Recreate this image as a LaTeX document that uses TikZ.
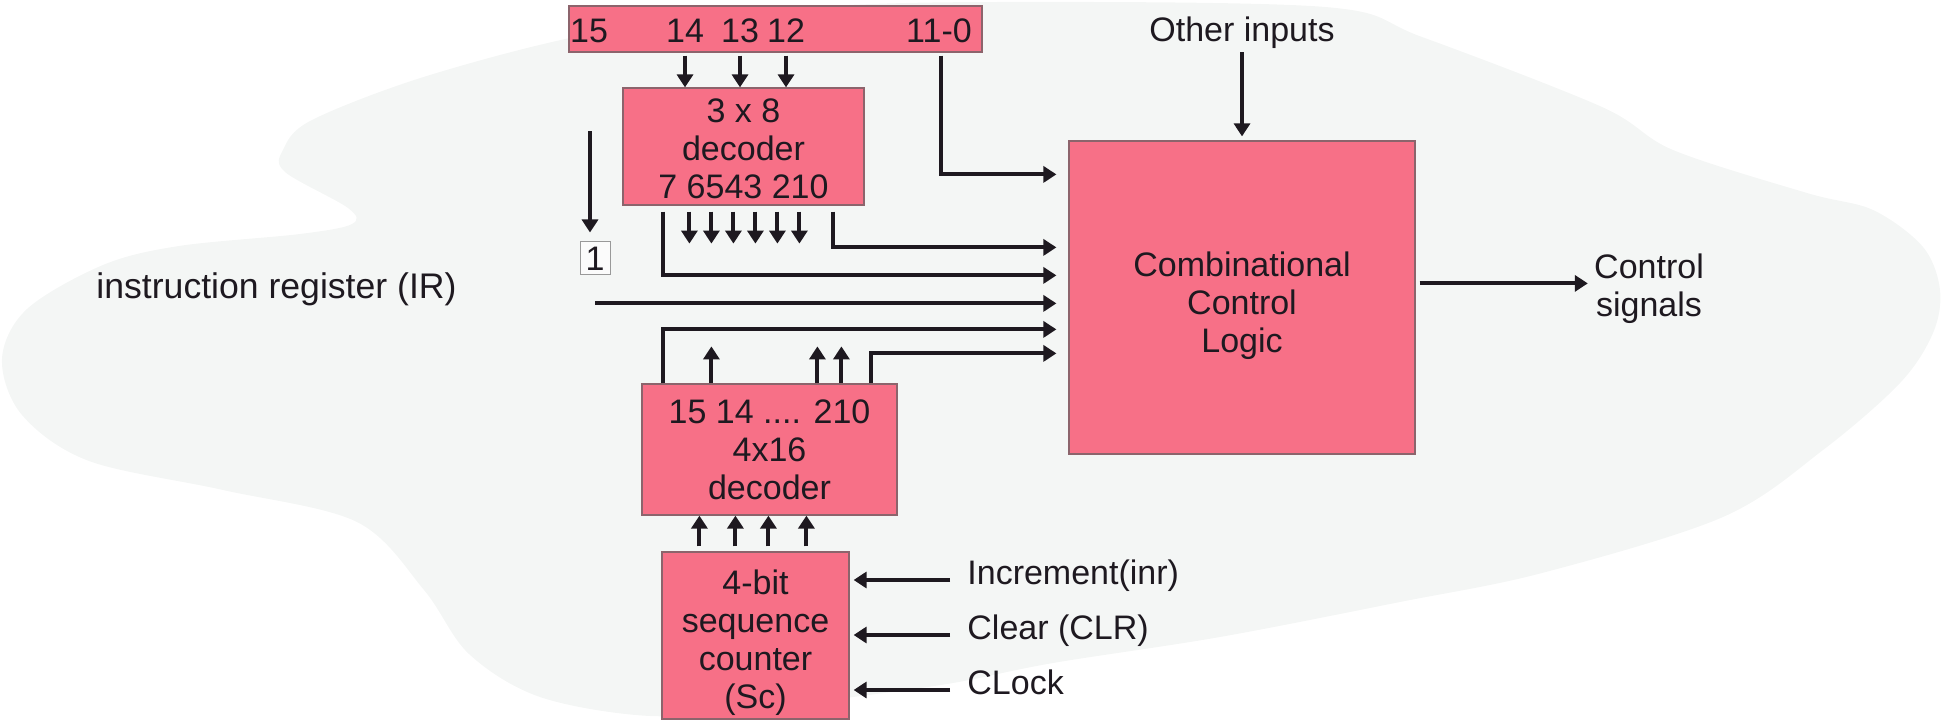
\documentclass[tikz,border=0pt]{standalone}
\usepackage{fontspec}
\setmainfont{Liberation Sans}
\usetikzlibrary{arrows.meta,calc}
\definecolor{pinkbox}{RGB}{247,112,135}
\definecolor{pinkedge}{RGB}{140,100,108}
\definecolor{blobcol}{RGB}{244,246,245}
\definecolor{ink}{RGB}{30,25,32}
\newcommand\dtxt{\fontsize{17}{19}\selectfont}
\begin{document}
\begin{tikzpicture}[x=0.5pt,y=-0.5pt,
  box/.style={draw=pinkedge,line width=0.6pt,fill=pinkbox,inner sep=0pt,align=center,font=\dtxt,text=ink},
  arr/.style={draw=ink,line width=2pt,-{Triangle[length=6.5pt,width=8pt]}},
  lbl/.style={inner sep=0pt,font=\dtxt,text=ink},
  smallbox/.style={draw=gray!80,line width=0.5pt,fill=white!60!blobcol,inner sep=0pt,font=\dtxt,text=ink}]
\useasboundingbox (0,0) rectangle (1942,721);
% background blob
\fill[blobcol] plot[smooth cycle,tension=0.55] coordinates {
 (600,32) (430,75) (312,120) (283,150) (285,172) (348,208) (352,224) (300,234)
 (179,246) (103,265) (27,309) (2,359) (22,415) (89,461) (223,490) (357,522)
 (424,590) (469,654) (540,697) (650,716) (760,708) (853,697) (953,683)
 (1053,663) (1220,637) (1400,602) (1542,573) (1723,517) (1823,450) (1900,383)
 (1933,333) (1940,290) (1923,247) (1873,210) (1807,193) (1673,150) (1602,107)
 (1422,37) (1325,7) (1000,2) (800,8)};
% boxes
\node[box,minimum width=206.5pt,minimum height=23pt] (bar) at (775.5,29) {};
\node[lbl] (b15) at (589,31) {15};
\node[lbl] (b14) at (685,31) {14};
\node[lbl] (b13) at (740,31) {13};
\node[lbl] (b12) at (786,31) {12};
\node[lbl] (b11) at (939,31) {11-0};
\node[box,minimum width=120.5pt,minimum height=58.5pt] (dec) at (743.5,146.5) {\rule{0pt}{14pt}3 x 8\\decoder\\7 6543 210};
\node[box,minimum width=127.5pt,minimum height=65.5pt] (d16) at (769.5,449.5) {15 14 .... 210\\4x16\\decoder};
\node[box,minimum width=93.5pt,minimum height=83.5pt] (sc) at (755.5,635.5) {\rule{0pt}{19.4pt}4-bit\\sequence\\counter\\(Sc)};
\node[box,minimum width=173pt,minimum height=156.5pt] (ccl) at (1242,297.5) {\rule{0pt}{20.4pt}Combinational\\Control\\Logic};
\node[smallbox,minimum width=15pt,minimum height=16.5pt] (one) at (595,258.5) {1};
% labels
\node[lbl,font=\fontsize{17.8}{19}\selectfont] (ir) at (276.5,289) {instruction register (IR)};
\node[lbl] (oth) at (1242,33) {Other inputs};
\node[lbl,align=center] (cs) at (1649,289) {Control\\signals};
\node[lbl,anchor=base west] (inc) at (967,584) {Increment(inr)};
\node[lbl,anchor=base west] (clr) at (967,639) {Clear (CLR)};
\node[lbl,anchor=base west] (clk) at (967,694) {CLock};
% input points on the control logic
\coordinate (i1) at ($(ccl.north west)+(-12,34)$);
\coordinate (i2) at ($(ccl.north west)+(-12,107)$);
\coordinate (i3) at ($(ccl.north west)+(-12,135)$);
\coordinate (i4) at ($(ccl.north west)+(-12,163)$);
\coordinate (i5) at ($(ccl.north west)+(-12,189)$);
\coordinate (i6) at ($(ccl.north west)+(-12,213)$);
% bar to decoder
\foreach \n in {b14,b13,b12}
  \draw[arr,shorten <=1.5pt] (bar.south -| \n) -- (dec.north -| \n);
\draw[arr,shorten <=1.5pt] ([xshift=1pt]bar.south -| b11) |- (i1);
% 3x8 decoder outputs
\draw[arr] ($(dec.south west)+(41,6)$) |- (i3);
\draw[arr] ($(dec.south east)+(-32,6)$) |- (i2);
\foreach \dx in {67,89,111,133,155,177}
  \draw[arr] ($(dec.south west)+(\dx,6)$) -- ++(0,32);
% IR line and bit 15
\draw[arr] ($(one.north)+(-5,-110)$) -- ([xshift=-2.5pt,yshift=4.5pt]one.north);
\draw[arr] (one.south |- i4) -- (i4);
% 4x16 decoder outputs
\draw[arr] ($(d16.north west)+(22,0)$) |- (i5);
\draw[arr] ($(d16.north east)+(-27,0)$) |- (i6);
\foreach \dx in {70,176,200}
  \draw[arr] ($(d16.north west)+(\dx,0)$) -- ++(0,-37);
% counter to decoder
\foreach \dx in {38,74,107,145}
  \draw[arr] ($(sc.north west)+(\dx,-5)$) coordinate (t) -- (t |- d16.south);
% counter inputs
\foreach \n in {inc,clr,clk}
  \draw[arr,shorten >=2pt] ([xshift=-8.5pt,yshift=2pt]\n.base west) coordinate (a) -- (a -| sc.east);
% other inputs and output
\draw[arr,shorten <=1.5pt,shorten >=2pt] (oth.south) -- (ccl.north);
\draw[arr,shorten >=3pt] ($(ccl.north east)+(4,143)$) coordinate (o1) -- (o1 -| cs.west);
\end{tikzpicture}
\end{document}
